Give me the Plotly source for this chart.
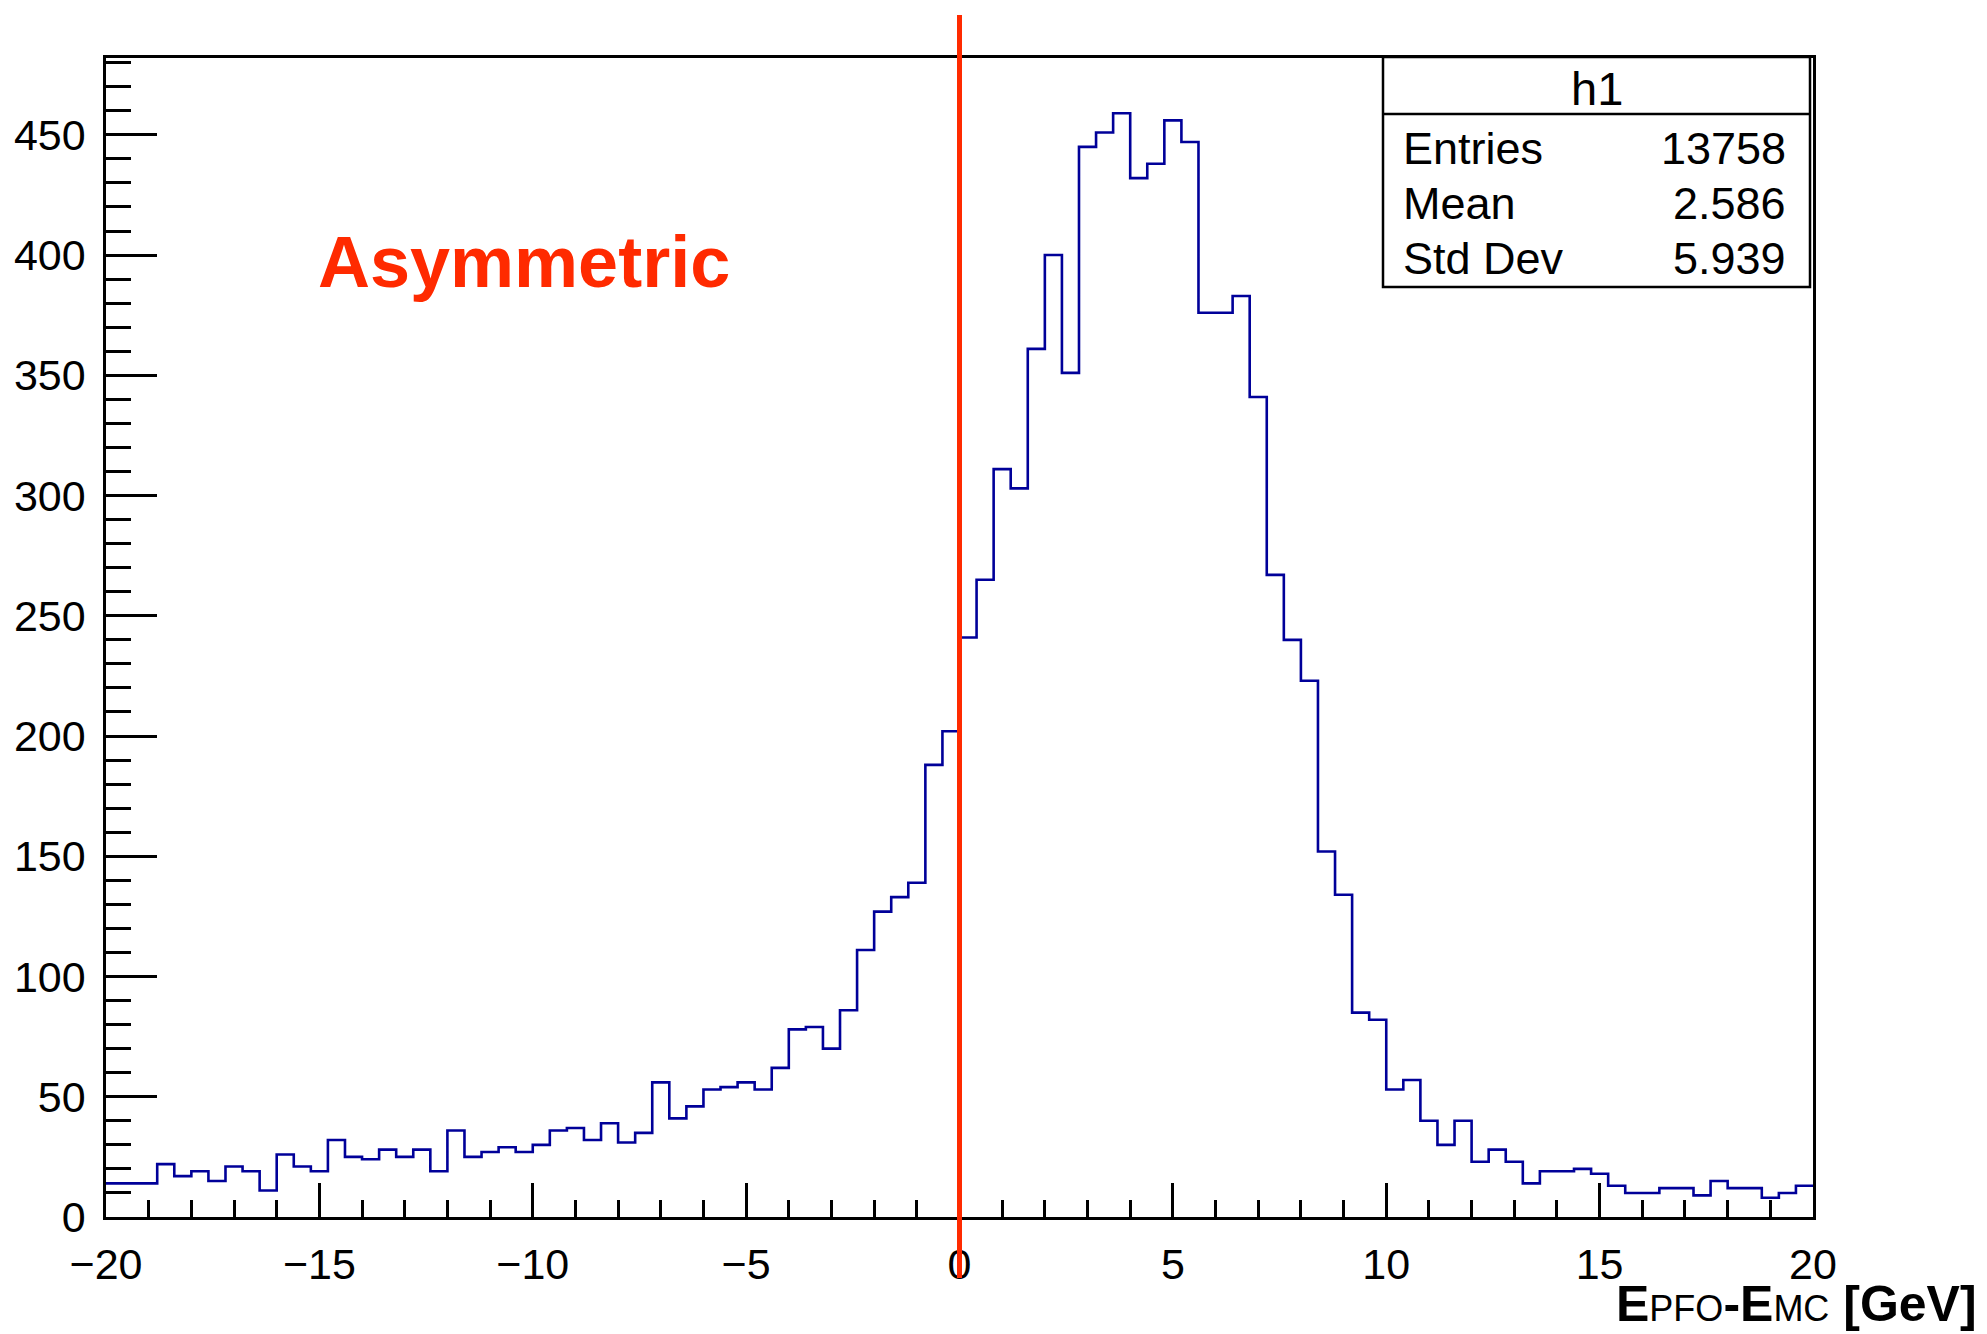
import plotly.graph_objects as go

# ---------------- data ----------------
counts = [14, 14, 14, 22, 17, 19, 15, 21, 19, 11,
          26, 21, 19, 32, 25, 24, 28, 25, 28, 19,
          36, 25, 27, 29, 27, 30, 36, 37, 32, 39,
          31, 35, 56, 41, 46, 53, 54, 56, 53, 62,
          78, 79, 70, 86, 111, 127, 133, 139, 188, 202,
          241, 265, 311, 303, 361, 400, 351, 445, 451, 459,
          432, 438, 456, 447, 376, 376, 383, 341, 267, 240,
          223, 152, 134, 85, 82, 53, 57, 40, 30, 40,
          23, 28, 23, 14, 19, 19, 20, 18, 13, 10,
          10, 12, 12, 9, 15, 12, 12, 8, 10, 13]
x_low = -20.0
x_high = 20.0
n_bins = 100
stat_labels = ["Entries", "Mean", "Std Dev"]
stat_values = ["13758", "2.586", "5.939"]
hist_name = "h1"
marker_x = 0.0

# ---------------- geometry ----------------
W, H = 1987, 1334
L, R, T, B = 106, 174, 58, 117
PW, PH = W - L - R, H - T - B
FONT = "Liberation Sans, Arial, Helvetica, sans-serif"
RED = "#ff2a00"


def px(xp):
    return (xp - L) / PW


def py(yp):
    return (H - B - yp) / PH


bw = (x_high - x_low) / n_bins
edges = [x_low + i * bw for i in range(n_bins + 1)]
y_step = counts + [counts[-1]]
ymax = max(counts) * 1.05

fig = go.Figure()
fig.add_trace(go.Scatter(x=edges, y=y_step, mode="lines",
                         line=dict(shape="hv", color="#000099", width=2.6),
                         hoverinfo="skip", showlegend=False))

axis_common = dict(showline=True, linecolor="black", linewidth=2.5, mirror=True,
                   showgrid=False, zeroline=False, ticks="inside",
                   tickcolor="black", tickwidth=2.5,
                   tickfont=dict(family=FONT, size=43, color="black"))

fig.update_layout(
    width=W, height=H, autosize=False,
    margin=dict(l=L, r=R, t=T, b=B, pad=0),
    paper_bgcolor="white", plot_bgcolor="white",
    xaxis=dict(range=[x_low, x_high], tickmode="linear", tick0=-20, dtick=5,
               ticklen=34, ticklabelstandoff=8,
               minor=dict(tick0=-20, dtick=1, ticklen=17, ticks="inside",
                          tickcolor="black", tickwidth=2.5),
               **axis_common),
    yaxis=dict(range=[0, ymax], tickmode="linear", tick0=0, dtick=50,
               ticklen=51, ticklabelstandoff=9,
               minor=dict(tick0=0, dtick=10, ticklen=25, ticks="inside",
                          tickcolor="black", tickwidth=2.5),
               **axis_common),
)

shapes = []
# vertical red marker line, extending beyond the frame
shapes.append(dict(type="line", xref="x", yref="paper", x0=marker_x, x1=marker_x,
                   y0=py(1278), y1=py(15), line=dict(color=RED, width=5), layer="above"))
# stats box
bx0, bx1, by0, by1, byh = 1383, 1810, 57, 287, 114
shapes.append(dict(type="rect", xref="paper", yref="paper",
                   x0=px(bx0), x1=px(bx1), y0=py(by1), y1=py(by0),
                   line=dict(color="black", width=2.5), fillcolor="white", layer="above"))
shapes.append(dict(type="line", xref="paper", yref="paper",
                   x0=px(bx0), x1=px(bx1), y0=py(byh), y1=py(byh),
                   line=dict(color="black", width=2.5), layer="above"))
fig.update_layout(shapes=shapes)

ann = []
ann.append(dict(xref="paper", yref="paper", x=px((bx0 + bx1) / 2), y=py(88),
                text=hist_name, showarrow=False, xanchor="center", yanchor="middle",
                font=dict(family=FONT, size=47, color="black")))
rows_y = [148, 203, 258]
for lab, val, yy in zip(stat_labels, stat_values, rows_y):
    ann.append(dict(xref="paper", yref="paper", x=px(1401), y=py(yy), text=lab,
                    showarrow=False, xanchor="left", yanchor="middle",
                    font=dict(family=FONT, size=45, color="black")))
    ann.append(dict(xref="paper", yref="paper", x=px(1788), y=py(yy), text=val,
                    showarrow=False, xanchor="right", yanchor="middle",
                    font=dict(family=FONT, size=45, color="black")))
# x axis title
ann.append(dict(xref="paper", yref="paper", x=px(1979), y=py(1304),
                text="<b>E</b><span style='font-size:36px'>PFO</span><b>-E</b>"
                     "<span style='font-size:36px'>MC</span><b> [GeV]</b>",
                showarrow=False, xanchor="right", yanchor="middle",
                font=dict(family=FONT, size=50, color="black")))
# label
ann.append(dict(xref="paper", yref="paper", x=px(524), y=py(262),
                text="<b>Asymmetric</b>", showarrow=False, xanchor="center", yanchor="middle",
                font=dict(family=FONT, size=72, color=RED)))
fig.update_layout(annotations=ann)

fig.write_html("out.html")
